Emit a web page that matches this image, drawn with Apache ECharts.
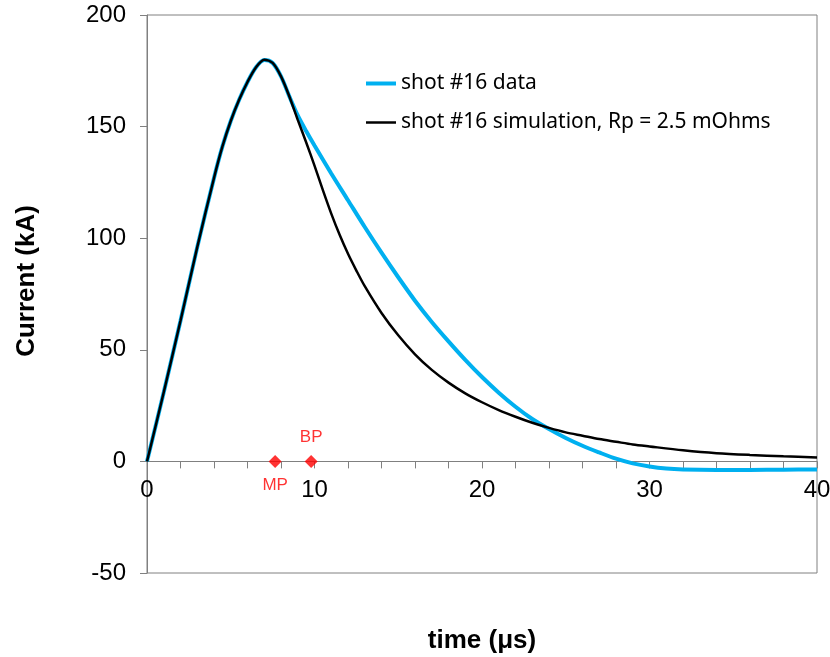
<!DOCTYPE html>
<html>
<head>
<meta charset="utf-8">
<title>shot #16 current</title>
<script src="https://cdn.jsdelivr.net/npm/echarts@6/dist/echarts.min.js"></script>
<style>
  html, body { margin: 0; padding: 0; background: #fff; }
  #chart { width: 830px; height: 657px; }
</style>
</head>
<body>
<div id="chart"></div>
<script>
// 测量电流 (shot #16 data)
const dataTime = [0, 1, 2, 3, 4, 4.5, 5, 5.5, 6, 6.5, 7, 7.5, 8, 8.5, 9, 9.5, 10, 11, 12, 13, 14, 15, 16, 17, 18, 19, 20, 21, 22, 23, 24, 25, 26, 27, 28, 29, 30, 31, 32, 34, 36, 38, 40];
const dataCurrent = [0, 31, 63, 96, 127, 141, 152.5, 162, 170, 176.5, 179.8, 178.5, 172.5, 163.5, 155, 148, 141.5, 129, 117, 105, 93.5, 82.5, 72, 62.5, 53.8, 45.5, 37.8, 30.8, 24.5, 19, 14.5, 10.5, 7, 4, 1.2, -0.9, -2.3, -3.2, -3.6, -3.8, -3.8, -3.7, -3.6];

// 仿真电流 (Rp = 2.5 mOhms)
const simTime = [0, 1, 2, 3, 4, 4.5, 5, 5.5, 6, 6.5, 7, 7.5, 8, 8.5, 9, 9.5, 10, 10.5, 11, 11.5, 12, 12.5, 13, 14, 15, 16, 17, 18, 19, 20, 21, 22, 23, 24, 25, 26, 27, 28, 29, 30, 32, 34, 36, 38, 40];
const simCurrent = [0, 31, 63, 96, 127, 141, 152.5, 162, 170, 176.5, 180, 178.5, 172.5, 163.5, 153, 143, 132.5, 121.5, 111, 101.5, 93, 85.5, 78.5, 66.5, 56.5, 48, 41, 35.3, 30.5, 26.5, 23, 20, 17.3, 15, 13, 11.5, 10, 8.8, 7.6, 6.7, 5, 3.7, 2.9, 2.3, 1.8];

// MP / BP 标记点
const markerNames = ['MP', 'BP'];
const markerTime = [7.65, 9.8];
const markerCurrent = [0, 0];

// 坐标轴刻度
const yTicks = [-50, 0, 50, 100, 150, 200];
const xLabelTicks = [0, 10, 20, 30, 40];

function toPairs(xs, ys) {
  return xs.map((x, i) => [x, ys[i]]);
}

const chart = echarts.init(document.getElementById('chart'));

const axisGray = '#808080';
const tickFont = 'Liberation Sans, Arial, sans-serif';
const dataColor = '#00B0F0';
const simColor = '#000';

const option = {
  animation: false,
  backgroundColor: '#fff',
  grid: {
    left: 147,
    right: 13,
    top: 15,
    bottom: 84,
    outerBoundsMode: 'none',
    containLabel: false,
    show: true,
    borderColor: axisGray,
    borderWidth: 1
  },
  legend: {
    data: [
      { name: 'shot #16 data', lineStyle: { color: dataColor, width: 4 } },
      { name: 'shot #16 simulation, Rp = 2.5 mOhms', lineStyle: { color: simColor, width: 2.5 } }
    ],
    orient: 'vertical',
    left: 364,
    top: 73,
    padding: 0,
    itemWidth: 30,
    itemHeight: 20,
    itemGap: 18,
    itemStyle: { opacity: 0 },
    textStyle: { fontFamily: 'Noto Sans', fontSize: 21, color: '#000' }
  },
  xAxis: {
    type: 'value',
    min: 0,
    max: 40,
    interval: 2,
    axisLine: { onZero: true, lineStyle: { color: axisGray, width: 1 } },
    axisTick: { length: 7, lineStyle: { color: axisGray } },
    // 标签放到 y=0 的轴线下方
    axisLabel: {
      margin: -95,
      fontFamily: tickFont,
      fontSize: 24,
      color: '#000',
      formatter: v => (xLabelTicks.indexOf(v) >= 0 ? String(v) : '')
    },
    splitLine: { show: false }
  },
  yAxis: {
    type: 'value',
    min: yTicks[0],
    max: yTicks[yTicks.length - 1],
    interval: 50,
    axisLine: { show: true, onZero: false, lineStyle: { color: axisGray, width: 1 } },
    axisTick: { show: true, length: 7, lineStyle: { color: axisGray } },
    axisLabel: { margin: 21, fontFamily: tickFont, fontSize: 24, color: '#000' },
    splitLine: { show: false }
  },
  graphic: [
    {
      type: 'text',
      x: 27,
      y: 281,
      rotation: Math.PI / 2,
      style: {
        text: 'Current (kA)',
        font: 'bold 26px Liberation Sans, Arial, sans-serif',
        fill: '#000',
        align: 'center',
        verticalAlign: 'middle'
      }
    },
    {
      type: 'text',
      x: 482,
      y: 641,
      style: {
        text: 'time (μs)',
        font: 'bold 26px Liberation Sans, Arial, sans-serif',
        fill: '#000',
        align: 'center',
        verticalAlign: 'middle'
      }
    }
  ],
  series: [
    {
      name: 'shot #16 data',
      type: 'line',
      data: toPairs(dataTime, dataCurrent),
      showSymbol: false,
      symbol: 'none',
      smooth: 0.3,
      lineStyle: { color: dataColor, width: 4 },
      itemStyle: { color: dataColor },
      z: 2
    },
    {
      name: 'shot #16 simulation, Rp = 2.5 mOhms',
      type: 'line',
      data: toPairs(simTime, simCurrent),
      showSymbol: false,
      symbol: 'none',
      smooth: 0.3,
      lineStyle: { color: simColor, width: 2.5 },
      itemStyle: { color: simColor },
      z: 3
    },
    {
      name: 'markers',
      type: 'scatter',
      symbol: 'diamond',
      symbolSize: 13,
      itemStyle: { color: '#FF0000' },
      z: 4,
      data: markerNames.map((n, i) => ({
        name: n,
        value: [markerTime[i], markerCurrent[i]],
        label: {
          show: true,
          position: i === 0 ? 'bottom' : 'top',
          distance: 9,
          formatter: '{b}',
          color: '#FF0000',
          fontFamily: tickFont,
          fontSize: 17
        }
      }))
    }
  ]
};

chart.setOption(option);
</script>
</body>
</html>
